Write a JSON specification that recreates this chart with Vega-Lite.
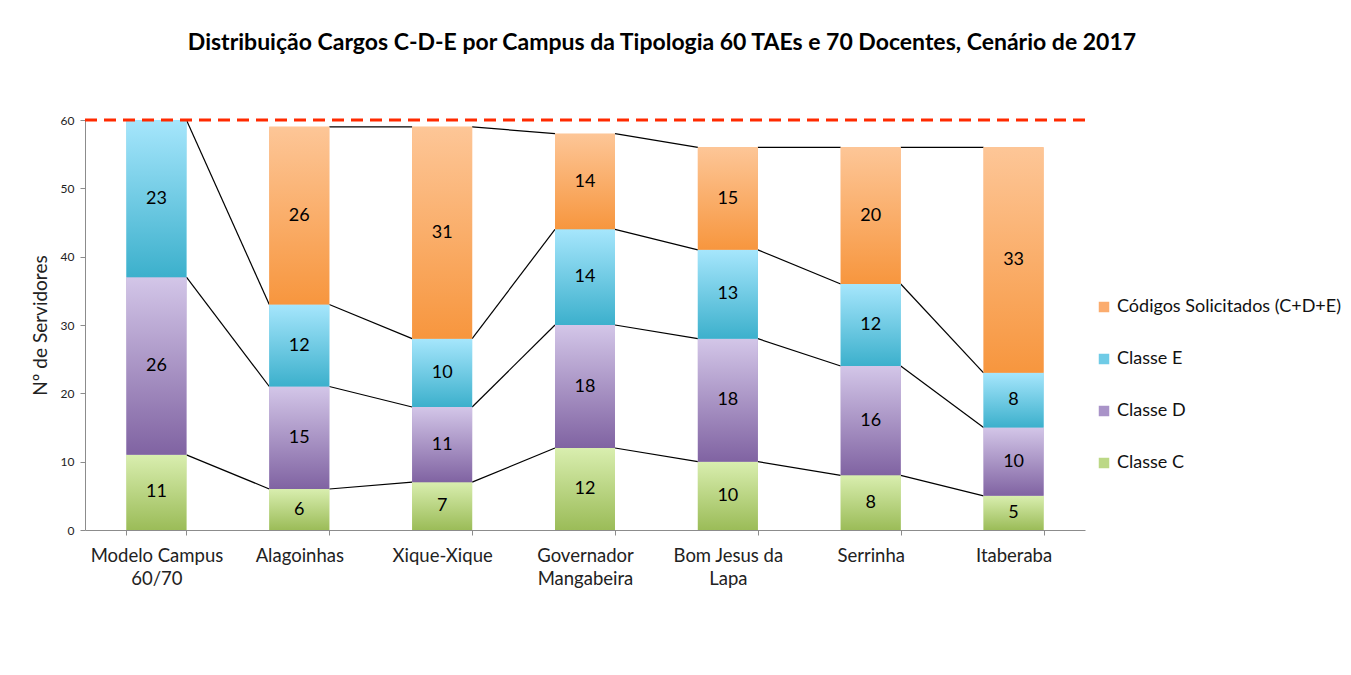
{
  "$schema": "https://vega.github.io/schema/vega-lite/v6.json",
  "width": 1000,
  "height": 410,
  "autosize": {"type": "none"},
  "padding": {"left": 85, "top": 120, "right": 266, "bottom": 145},
  "background": "white",
  "config": {
    "font": "Lato",
    "view": {"stroke": null},
    "axis": {"labelFont": "Lato", "titleFont": "Lato", "grid": false, "domainColor": "#8c8c8c", "tickColor": "#8c8c8c", "labelColor": "#222222", "titleColor": "#222222"},
    "axisY": {"labelFontSize": 12, "tickSize": 5, "labelPadding": 6, "titleFontSize": 19, "titleFontWeight": "normal", "titlePadding": 10},
    "axisX": {"labelFontSize": 18.5, "tickSize": 5, "labelPadding": 11, "labelAngle": 0, "tickBand": "extent", "labelLineHeight": 23,
      "labelExpr": "datum.label == 'Modelo Campus 60/70' ? ['Modelo Campus', '60/70'] : datum.label == 'Governador Mangabeira' ? ['Governador', 'Mangabeira'] : datum.label == 'Bom Jesus da Lapa' ? ['Bom Jesus da', 'Lapa'] : datum.label"},
    "scale": {"bandPaddingInner": 0.58, "bandPaddingOuter": 0.29}
  },
  "title": {
    "text": "Distribuição Cargos C-D-E por Campus da Tipologia 60 TAEs e 70 Docentes, Cenário de 2017",
    "font": "Lato", "fontSize": 23, "fontWeight": "bold", "color": "#000000",
    "anchor": "middle", "frame": "group", "dx": 77, "offset": 59
  },
  "data": {
    "values": [
      {"campus": "Modelo Campus 60/70", "k": 1, "serie": "Classe C", "s": 1, "v": 11},
      {"campus": "Modelo Campus 60/70", "k": 1, "serie": "Classe D", "s": 2, "v": 26},
      {"campus": "Modelo Campus 60/70", "k": 1, "serie": "Classe E", "s": 3, "v": 23},
      {"campus": "Alagoinhas", "k": 2, "serie": "Classe C", "s": 1, "v": 6},
      {"campus": "Alagoinhas", "k": 2, "serie": "Classe D", "s": 2, "v": 15},
      {"campus": "Alagoinhas", "k": 2, "serie": "Classe E", "s": 3, "v": 12},
      {"campus": "Alagoinhas", "k": 2, "serie": "Códigos Solicitados (C+D+E)", "s": 4, "v": 26},
      {"campus": "Xique-Xique", "k": 3, "serie": "Classe C", "s": 1, "v": 7},
      {"campus": "Xique-Xique", "k": 3, "serie": "Classe D", "s": 2, "v": 11},
      {"campus": "Xique-Xique", "k": 3, "serie": "Classe E", "s": 3, "v": 10},
      {"campus": "Xique-Xique", "k": 3, "serie": "Códigos Solicitados (C+D+E)", "s": 4, "v": 31},
      {"campus": "Governador Mangabeira", "k": 4, "serie": "Classe C", "s": 1, "v": 12},
      {"campus": "Governador Mangabeira", "k": 4, "serie": "Classe D", "s": 2, "v": 18},
      {"campus": "Governador Mangabeira", "k": 4, "serie": "Classe E", "s": 3, "v": 14},
      {"campus": "Governador Mangabeira", "k": 4, "serie": "Códigos Solicitados (C+D+E)", "s": 4, "v": 14},
      {"campus": "Bom Jesus da Lapa", "k": 5, "serie": "Classe C", "s": 1, "v": 10},
      {"campus": "Bom Jesus da Lapa", "k": 5, "serie": "Classe D", "s": 2, "v": 18},
      {"campus": "Bom Jesus da Lapa", "k": 5, "serie": "Classe E", "s": 3, "v": 13},
      {"campus": "Bom Jesus da Lapa", "k": 5, "serie": "Códigos Solicitados (C+D+E)", "s": 4, "v": 15},
      {"campus": "Serrinha", "k": 6, "serie": "Classe C", "s": 1, "v": 8},
      {"campus": "Serrinha", "k": 6, "serie": "Classe D", "s": 2, "v": 16},
      {"campus": "Serrinha", "k": 6, "serie": "Classe E", "s": 3, "v": 12},
      {"campus": "Serrinha", "k": 6, "serie": "Códigos Solicitados (C+D+E)", "s": 4, "v": 20},
      {"campus": "Itaberaba", "k": 7, "serie": "Classe C", "s": 1, "v": 5},
      {"campus": "Itaberaba", "k": 7, "serie": "Classe D", "s": 2, "v": 10},
      {"campus": "Itaberaba", "k": 7, "serie": "Classe E", "s": 3, "v": 8},
      {"campus": "Itaberaba", "k": 7, "serie": "Códigos Solicitados (C+D+E)", "s": 4, "v": 33}
    ]
  },
  "transform": [
    {"stack": "v", "groupby": ["campus"], "sort": [{"field": "s", "order": "ascending"}], "as": ["y0", "y1"]}
  ],
  "layer": [
    {
      "transform": [
        {"window": [{"op": "lead", "field": "campus", "as": "next"}, {"op": "lead", "field": "y1", "as": "ny"}], "groupby": ["serie"], "sort": [{"field": "k", "order": "ascending"}], "frame": [null, null]},
        {"filter": "datum.next != null"}
      ],
      "mark": {"type": "rule", "color": "#000000", "strokeWidth": 1.2},
      "encoding": {
        "x": {"field": "campus", "type": "nominal", "bandPosition": 1, "sort": {"field": "k"}, "title": null},
        "x2": {"field": "next", "type": "nominal", "bandPosition": 0},
        "y": {"field": "y1", "type": "quantitative", "scale": {"domain": [0, 60], "nice": false}, "title": "Nº de Servidores", "axis": {"values": [0, 10, 20, 30, 40, 50, 60]}},
        "y2": {"field": "ny"}
      }
    },
    {
      "mark": {"type": "bar"},
      "encoding": {
        "x": {"field": "campus", "type": "nominal", "sort": {"field": "k"}, "title": null},
        "y": {"field": "y1", "type": "quantitative", "title": "Nº de Servidores", "axis": {"values": [0, 10, 20, 30, 40, 50, 60]}},
        "y2": {"field": "y0"},
        "color": {
          "field": "serie", "type": "nominal",
          "scale": {
            "domain": ["Códigos Solicitados (C+D+E)", "Classe E", "Classe D", "Classe C"],
            "range": ["#fbac6e", "#6fcbe6", "#a993c8", "#bcd886"]
          },
          "legend": {
            "orient": "none", "legendX": 1010, "legendY": 178, "title": null,
            "symbolType": "square", "symbolSize": 110, "symbolStrokeWidth": 0, "symbolOpacity": 1,
            "labelFontSize": 18, "labelFont": "Lato", "labelColor": "#111111", "labelOffset": 4, "labelLimit": 400,
            "rowPadding": 34
          }
        }
      }
    },
    {
      "mark": {"type": "bar"},
      "encoding": {
        "x": {"field": "campus", "type": "nominal", "sort": {"field": "k"}, "title": null},
        "y": {"field": "y1", "type": "quantitative", "title": "Nº de Servidores", "axis": {"values": [0, 10, 20, 30, 40, 50, 60]}},
        "y2": {"field": "y0"},
        "fill": {
          "condition": [
            {"test": "datum.s == 4", "value": {"gradient": "linear", "x1": 0, "y1": 0, "x2": 0, "y2": 1, "stops": [{"offset": 0, "color": "#fdc697"}, {"offset": 1, "color": "#f7963e"}]}},
            {"test": "datum.s == 3", "value": {"gradient": "linear", "x1": 0, "y1": 0, "x2": 0, "y2": 1, "stops": [{"offset": 0, "color": "#a6e6fc"}, {"offset": 1, "color": "#3cb0cc"}]}},
            {"test": "datum.s == 2", "value": {"gradient": "linear", "x1": 0, "y1": 0, "x2": 0, "y2": 1, "stops": [{"offset": 0, "color": "#d3c6e8"}, {"offset": 1, "color": "#8063a2"}]}}
          ],
          "value": {"gradient": "linear", "x1": 0, "y1": 0, "x2": 0, "y2": 1, "stops": [{"offset": 0, "color": "#d9eeaf"}, {"offset": 1, "color": "#9bbc58"}]}
        }
      }
    },
    {
      "transform": [{"calculate": "(datum.y0 + datum.y1) / 2", "as": "mid"}],
      "mark": {"type": "text", "fontSize": 18, "color": "#000000", "font": "Lato", "baseline": "middle"},
      "encoding": {
        "x": {"field": "campus", "type": "nominal", "sort": {"field": "k"}, "title": null},
        "y": {"field": "mid", "type": "quantitative", "title": "Nº de Servidores", "axis": {"values": [0, 10, 20, 30, 40, 50, 60]}},
        "text": {"field": "v", "type": "quantitative"}
      }
    },
    {
      "data": {"values": [{"limite": 60}]},
      "mark": {"type": "rule", "color": "#ff2a00", "strokeWidth": 3, "strokeDash": [12, 7]},
      "encoding": {
        "y": {"field": "limite", "type": "quantitative", "title": "Nº de Servidores", "axis": {"values": [0, 10, 20, 30, 40, 50, 60]}}
      }
    }
  ]
}
